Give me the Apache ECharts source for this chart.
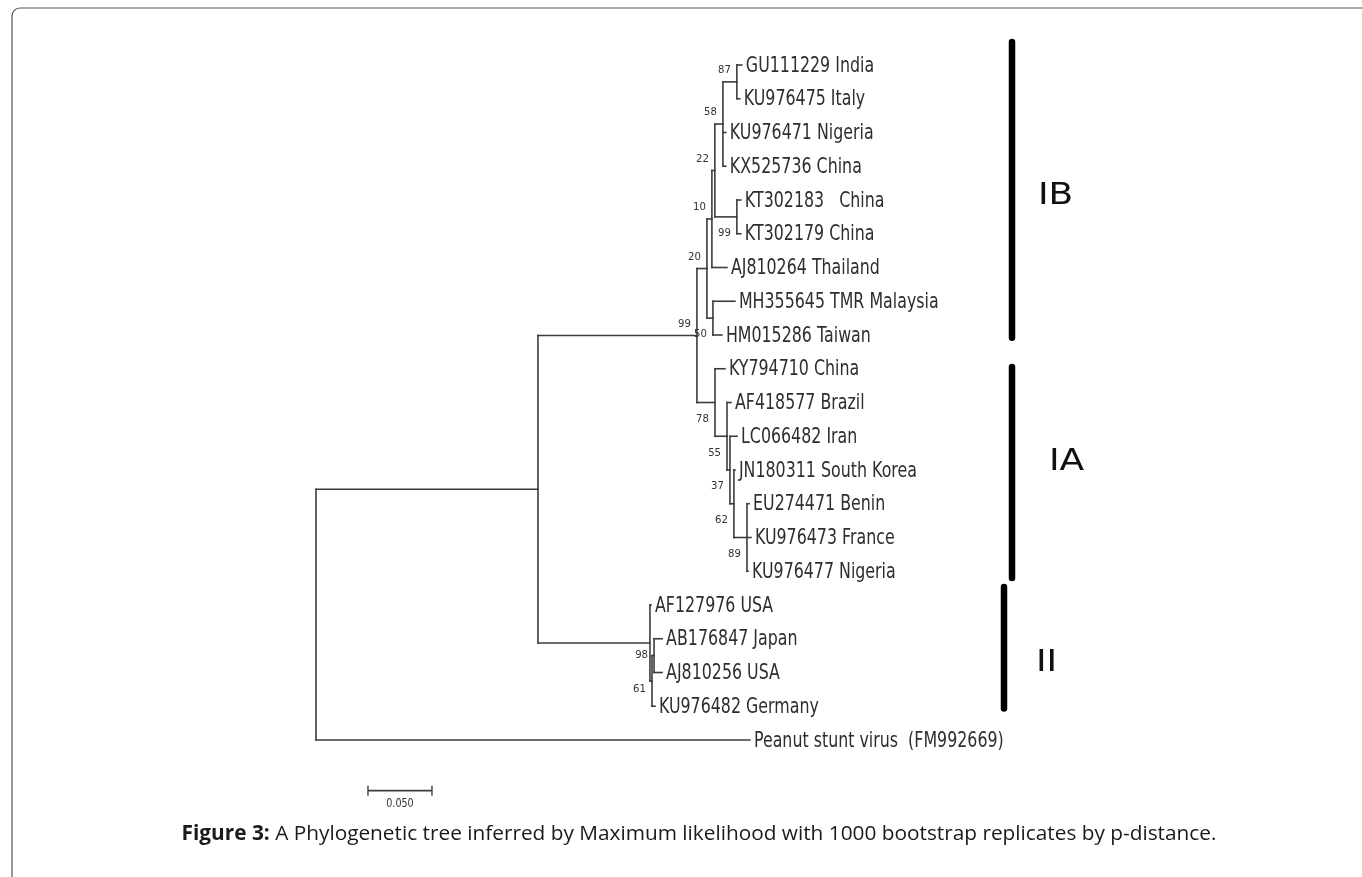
<!DOCTYPE html>
<html><head><meta charset="utf-8">
<style>html,body{margin:0;padding:0;background:#fff}#c{width:1362px;height:877px}</style>
<script src="https://cdn.jsdelivr.net/npm/echarts@6/dist/echarts.min.js"></script>
</head><body><div id="c"></div>
<script>
// ---------------- DATA ----------------
// Leaves, top to bottom
const leafNames = [
  'GU111229 India', 'KU976475 Italy', 'KU976471 Nigeria', 'KX525736 China',
  'KT302183   China', 'KT302179 China', 'AJ810264 Thailand', 'MH355645 TMR Malaysia',
  'HM015286 Taiwan', 'KY794710 China', 'AF418577 Brazil', 'LC066482 Iran',
  'JN180311 South Korea', 'EU274471 Benin', 'KU976473 France', 'KU976477 Nigeria',
  'AF127976 USA', 'AB176847 Japan', 'AJ810256 USA', 'KU976482 Germany',
  'Peanut stunt virus  (FM992669)'
];
const leafParents = ['N87','N87','Z','Z','KT','KT','X','M','M','IA','B','C','D','F','F','F','II','H','H','G','root'];
const leafLengths = [0.0039,0.0023,0.0023,0.0023,0.0031,0.0031,0.0117,0.0172,0.0070,0.0078,0.0031,0.0055,0.0008,0.0016,0.0031,0.0008,0.0008,0.0063,0.0063,0.0023,0.339];
// Internal nodes
const nodeIds       = ['root','A','I','IB','X','Y','Z','N87','KT','M','IA','B','C','D','F','II','G','H'];
const nodeParents   = [null,'root','A','I','IB','X','Y','Z','Y','IB','I','IA','B','C','D','A','II','G'];
const nodeLengths   = [0,0.1734,0.1242,0.0078,0.0039,0.0023,0.0063,0.0109,0.0172,0.0047,0.0141,0.0094,0.0023,0.0031,0.0102,0.0875,0.0016,0.0016];
const nodeBootstrap = [null,null,99,20,10,22,58,87,99,50,78,55,37,62,89,null,61,98];
// Clades marked on the right
const cladeNames = ['IB','IA','II'];
const cladeFirstLeaf = [0, 9, 16];
const cladeLastLeaf = [8, 15, 19];
// Scale bar
const scaleBarLength = 0.05;
const scaleBarLabel = '0.050';
// Caption
const captionBold = 'Figure 3:';
const captionText = ' A Phylogenetic tree inferred by Maximum likelihood with 1000 bootstrap replicates by p-distance.';

// ---------------- TREE LAYOUT (from data) ----------------
const info = {};
nodeIds.forEach((id, i) => { info[id] = {id, parent: nodeParents[i], len: nodeLengths[i], boot: nodeBootstrap[i], children: [], leaf: false}; });
leafNames.forEach((n, i) => { const id = 'leaf' + i; info[id] = {id, parent: leafParents[i], len: leafLengths[i], children: [], leaf: true, y: i}; });
Object.keys(info).forEach(id => { const p = info[id].parent; if (p) info[p].children.push(id); });
function depth(id) { const n = info[id]; if (n.d !== undefined) return n.d; n.d = n.parent ? depth(n.parent) + n.len : 0; return n.d; }
function ypos(id) { const n = info[id]; if (n.y !== undefined) return n.y; const ys = n.children.map(ypos); n.y = (Math.min(...ys) + Math.max(...ys)) / 2; return n.y; }
Object.keys(info).forEach(id => { depth(id); ypos(id); });

const segments = [];
Object.keys(info).forEach(id => {
  const n = info[id];
  if (n.parent) segments.push([depth(n.parent), n.y, n.d, n.y]);
  if (!n.leaf) {
    const ys = n.children.map(c => info[c].y);
    segments.push([n.d, Math.min(...ys), n.d, Math.max(...ys)]);
  }
});
const leafPoints = leafNames.map((n, i) => [info['leaf' + i].d, i]);
const bootIds = [];
const bootPoints = [];
nodeIds.forEach(id => {
  const n = info[id];
  if (n.boot != null) { bootIds.push(id); bootPoints.push([n.d, n.y, n.boot, n.y < info[n.parent].y ? 1 : 0]); }
});

// ---------------- LAYOUT CONSTANTS (style) ----------------
const cladeBarX = [0.54375, 0.54375, 0.5375];
const cladeExtTop = [0.68, 0.05, 0.53];
const cladeExtBot = [0.08, 0.2, 0.07];
const cladeLabelDx = [26, 37, 32];
const cladeLabelDy = [0.2, -0.3, 0.45];
const cladeData = cladeNames.map((n, i) => [cladeBarX[i], cladeFirstLeaf[i] - cladeExtTop[i], cladeLastLeaf[i] + cladeExtBot[i]]);
const scaleBarPos = [0.0406, 21.5];
const bootDyAbove = -11.5, bootDyBelow = 16.5;
const bootDyOverride = {H: 0, G: 8};

const leafFont = '22px "DejaVu Sans"';
const leafScaleX = 0.72;
const lineColor = '#3c3c3c';

const chart = echarts.init(document.getElementById('c'), null, {renderer: 'canvas'});
chart.setOption({
  backgroundColor: '#fff',
  animation: false,
  graphic: [{
    type: 'rect', silent: true, z: -1,
    shape: {x: 12, y: 8, width: 1400, height: 920, r: [8, 0, 0, 0]},
    style: {fill: 'none', stroke: '#555', lineWidth: 1.2}
  }, {
    type: 'text', silent: true, x: 699, y: 834,
    style: {
      text: '{b|' + captionBold + '}{n|' + captionText + '}',
      align: 'center', verticalAlign: 'middle',
      rich: {
        b: {fontFamily: 'Open Sans', fontWeight: 'bold', fontSize: 20.8, fill: '#1a1a1a'},
        n: {fontFamily: 'Open Sans', fontWeight: 'normal', fontSize: 20.8, fill: '#1a1a1a'}
      }
    }
  }],
  grid: {left: 316, top: 31.25, width: 1024, height: 776.25, containLabel: false},
  xAxis: {type: 'value', min: 0, max: 0.8, show: false},
  yAxis: {type: 'value', min: -1, max: 22, inverse: true, show: false},
  series: [
    {
      type: 'custom', name: 'branches', data: segments, clip: false,
      renderItem: (params, api) => {
        const a = api.coord([api.value(0), api.value(1)]);
        const b = api.coord([api.value(2), api.value(3)]);
        return {type: 'line', shape: {x1: a[0], y1: a[1], x2: b[0], y2: b[1]}, style: {stroke: lineColor, lineWidth: 1.6, lineCap: 'square'}};
      }
    },
    {
      type: 'custom', name: 'leaves', data: leafPoints, clip: false,
      renderItem: (params, api) => {
        const p = api.coord([api.value(0), api.value(1)]);
        return {type: 'text', x: p[0] + 4, y: p[1] + 1, scaleX: leafScaleX,
          style: {text: leafNames[params.dataIndex], font: leafFont, fill: '#2e2e2e', align: 'left', verticalAlign: 'middle'}};
      }
    },
    {
      type: 'custom', name: 'bootstrap', data: bootPoints, clip: false,
      renderItem: (params, api) => {
        const p = api.coord([api.value(0), api.value(1)]);
        const id = bootIds[params.dataIndex];
        const dy = (id in bootDyOverride) ? bootDyOverride[id] : (api.value(3) === 1 ? bootDyAbove : bootDyBelow);
        return {type: 'text', x: p[0] - 6, y: p[1] + dy, scaleX: 0.92,
          style: {text: String(api.value(2)), font: '11px "DejaVu Sans"', fill: '#333', align: 'right', verticalAlign: 'middle'}};
      }
    },
    {
      type: 'custom', name: 'clades', data: cladeData, clip: false,
      renderItem: (params, api) => {
        const i = params.dataIndex;
        const a = api.coord([api.value(0), api.value(1)]);
        const b = api.coord([api.value(0), api.value(2)]);
        const mid = api.coord([api.value(0), (api.value(1) + api.value(2)) / 2 + cladeLabelDy[i]]);
        return {type: 'group', children: [
          {type: 'line', shape: {x1: a[0], y1: a[1], x2: b[0], y2: b[1]}, style: {stroke: '#000', lineWidth: 6.5, lineCap: 'round'}},
          {type: 'text', x: a[0] + cladeLabelDx[i], y: mid[1], scaleX: 1.2,
            style: {text: cladeNames[i], font: '30px "DejaVu Sans"', fill: '#111', align: 'left', verticalAlign: 'middle'}}
        ]};
      }
    },
    {
      type: 'custom', name: 'scalebar', data: [[scaleBarPos[0], scaleBarPos[1], scaleBarPos[0] + scaleBarLength]], clip: false,
      renderItem: (params, api) => {
        const a = api.coord([api.value(0), api.value(1)]);
        const b = api.coord([api.value(2), api.value(1)]);
        return {type: 'group', children: [
          {type: 'line', shape: {x1: a[0], y1: a[1], x2: b[0], y2: b[1]}, style: {stroke: lineColor, lineWidth: 1.6}},
          {type: 'line', shape: {x1: a[0], y1: a[1] - 5, x2: a[0], y2: a[1] + 5}, style: {stroke: lineColor, lineWidth: 1.4}},
          {type: 'line', shape: {x1: b[0], y1: b[1] - 5, x2: b[0], y2: b[1] + 5}, style: {stroke: lineColor, lineWidth: 1.4}},
          {type: 'text', x: (a[0] + b[0]) / 2, y: a[1] + 13, scaleX: 0.8,
            style: {text: scaleBarLabel, font: '12px "DejaVu Sans"', fill: '#333', align: 'center', verticalAlign: 'middle'}}
        ]};
      }
    }
  ]
});
</script></body></html>
